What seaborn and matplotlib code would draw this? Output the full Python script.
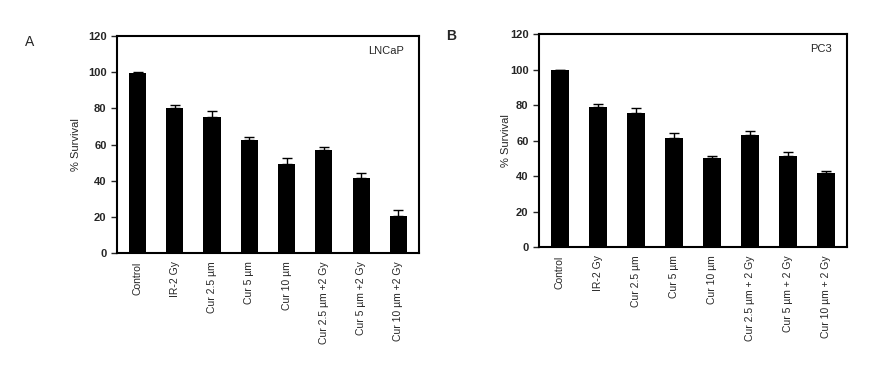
import numpy as np
import pandas as pd
import matplotlib
matplotlib.use('Agg')
import matplotlib.pyplot as plt
import seaborn as sns

# date
labels_a = ['Control', 'IR-2 Gy', 'Cur 2.5 µm', 'Cur 5 µm', 'Cur 10 µm',
            'Cur 2.5 µm +2 Gy', 'Cur 5 µm +2 Gy', 'Cur 10 µm +2 Gy']
labels_b = ['Control', 'IR-2 Gy', 'Cur 2.5 µm', 'Cur 5 µm', 'Cur 10 µm',
            'Cur 2.5 µm + 2 Gy', 'Cur 5 µm + 2 Gy', 'Cur 10 µm + 2 Gy']
lncap_mean = [99.6, 80.0, 75.5, 62.5, 49.3, 56.8, 41.4, 20.4]
lncap_err = [0.3, 2.0, 3.0, 1.6, 3.1, 2.0, 3.1, 3.2]
pc3_mean = [100.0, 78.9, 75.6, 61.5, 50.0, 62.9, 51.1, 41.7]
pc3_err = [0.0, 1.5, 2.7, 3.0, 1.5, 2.7, 2.3, 1.3]
yticks = [0, 20, 40, 60, 80, 100, 120]

sns.set_style('white')
plt.rcParams['font.family'] = ['Liberation Sans', 'DejaVu Sans']

fig = plt.figure(figsize=(8.7, 3.8), dpi=100)
axA = fig.add_axes([0.1345, 0.334, 0.347, 0.571])
axB = fig.add_axes([0.6195, 0.350, 0.354, 0.5605])


def panel(ax, labels, mean, err, name, letter, lx, ly, lw):
    df = pd.DataFrame({'grup': labels, 'val': mean})
    sns.barplot(x='grup', y='val', data=df, color='black', width=0.46,
                saturation=1, ax=ax, errorbar=None, linewidth=0)
    x = np.arange(len(labels))
    ax.errorbar(x, mean, yerr=[np.zeros(len(err)), err], fmt='none',
                ecolor='black', elinewidth=1, capsize=3.5, capthick=1)
    ax.set_ylim(0, 120)
    ax.set_xlim(-0.55, len(labels) - 0.45)
    ax.set_yticks(yticks)
    ax.set_yticklabels([str(t) for t in yticks], fontweight='bold', fontsize=8)
    ax.set_xticks(x)
    ax.set_xticklabels(labels, rotation=90, fontsize=7.5)
    ax.tick_params(axis='y', direction='out', length=4, width=1, left=True)
    ax.tick_params(axis='x', length=0, pad=6)
    ax.set_xlabel('')
    ax.set_ylabel('% Survival', fontsize=8)
    for s in ax.spines.values():
        s.set_color('black')
        s.set_linewidth(1.5)
    ax.text(0.95, 0.93, name, transform=ax.transAxes, ha='right', va='center',
            fontsize=8)
    fig.text(lx / 870, 1 - ly / 380, letter, fontsize=10, fontweight=lw,
             ha='left', va='center')


panel(axA, labels_a, lncap_mean, lncap_err, 'LNCaP', 'A', 25, 42, 'normal')
panel(axB, labels_b, pc3_mean, pc3_err, 'PC3', 'B', 446, 36, 'bold')
axA.yaxis.set_label_coords(-0.12, 0.5)
axB.yaxis.set_label_coords(-0.09, 0.5)

plt.savefig('out.png', dpi=100)
